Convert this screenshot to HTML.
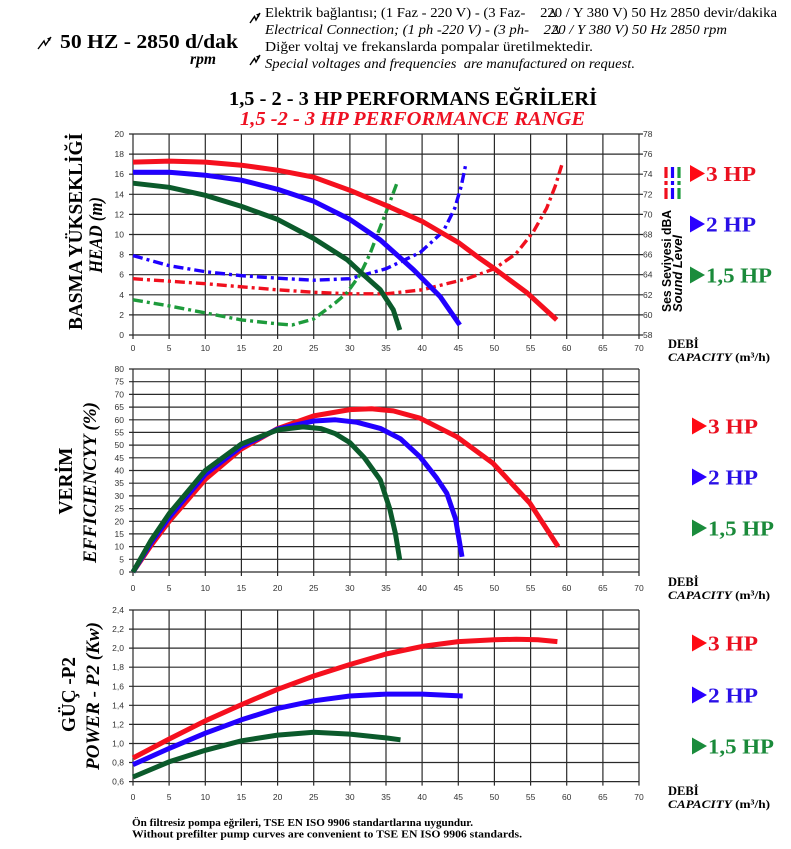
<!DOCTYPE html>
<html><head><meta charset="utf-8"><style>
html,body{margin:0;padding:0;background:#fff;}
svg{display:block;}
.tk{font-family:"Liberation Sans",Arial,sans-serif;font-size:8.5px;fill:#333;}
.sr{font-family:"Liberation Serif","Times New Roman",serif;}
</style></head><body>
<svg width="791" height="849" viewBox="0 0 791 849" xmlns="http://www.w3.org/2000/svg">
<rect width="791" height="849" fill="#fff"/>

<!-- Header -->
<g stroke="#000" stroke-width="1.4" fill="none">
  <path d="M38,49 L44,41 L45.5,45 L51,37"/>
  <path d="M250,23 L254.5,16.5 L256,20 L260,13"/>
  <path d="M250,65 L254.5,58.5 L256,62 L260,55"/>
</g>
<g fill="#000">
  <polygon points="51,37 47,38.5 50,41"/>
  <polygon points="260,13 256,14.5 259,17"/>
  <polygon points="260,55 256,56.5 259,59"/>
</g>
<text class="sr" x="60" y="48" font-size="20" font-weight="bold" textLength="178" lengthAdjust="spacingAndGlyphs">50 HZ - 2850 d/dak</text>
<text class="sr" x="190" y="64" font-size="16" font-weight="bold" font-style="italic" textLength="26" lengthAdjust="spacingAndGlyphs">rpm</text>
<text class="sr" x="265" y="17" font-size="14" textLength="512" lengthAdjust="spacingAndGlyphs" xml:space="preserve">Elektrik bağlantısı; (1 Faz - 220 V) - (3 Faz-    220 / Y 380 V) 50 Hz 2850 devir/dakika</text>
<text class="sr" x="265" y="34" font-size="14" font-style="italic" textLength="462" lengthAdjust="spacingAndGlyphs" xml:space="preserve">Electrical Connection; (1 ph -220 V) - (3 ph-    220 / Y 380 V) 50 Hz 2850 rpm</text>
<text class="sr" x="549" y="17" font-size="12">∆</text>
<text class="sr" x="552" y="34" font-size="12">∆</text>
<text class="sr" x="265" y="51" font-size="14" textLength="328" lengthAdjust="spacingAndGlyphs">Diğer voltaj ve frekanslarda pompalar üretilmektedir.</text>
<text class="sr" x="265" y="68" font-size="14" font-style="italic" textLength="370" lengthAdjust="spacingAndGlyphs" xml:space="preserve">Special voltages and frequencies  are manufactured on request.</text>

<text class="sr" x="229" y="105" font-size="20" font-weight="bold" textLength="368" lengthAdjust="spacingAndGlyphs">1,5 - 2 - 3 HP PERFORMANS EĞRİLERİ</text>
<text class="sr" x="240" y="125" font-size="20" font-weight="bold" font-style="italic" fill="#ee1122" textLength="345" lengthAdjust="spacingAndGlyphs">1,5 -2 - 3 HP PERFORMANCE RANGE</text>

<!-- ============ CHART 1 ============ -->
<g stroke="#2a2a2a" stroke-width="1.2">
  <line x1="133" y1="134" x2="133" y2="339"/><line x1="169.1" y1="134" x2="169.1" y2="339"/><line x1="205.3" y1="134" x2="205.3" y2="339"/><line x1="241.4" y1="134" x2="241.4" y2="339"/><line x1="277.6" y1="134" x2="277.6" y2="339"/><line x1="313.7" y1="134" x2="313.7" y2="339"/><line x1="349.9" y1="134" x2="349.9" y2="339"/><line x1="386" y1="134" x2="386" y2="339"/><line x1="422.1" y1="134" x2="422.1" y2="339"/><line x1="458.3" y1="134" x2="458.3" y2="339"/><line x1="494.4" y1="134" x2="494.4" y2="339"/><line x1="530.6" y1="134" x2="530.6" y2="339"/><line x1="566.7" y1="134" x2="566.7" y2="339"/><line x1="602.9" y1="134" x2="602.9" y2="339"/><line x1="639" y1="134" x2="639" y2="339"/>
  <line x1="129" y1="134" x2="643" y2="134"/><line x1="129" y1="154.1" x2="643" y2="154.1"/><line x1="129" y1="174.2" x2="643" y2="174.2"/><line x1="129" y1="194.3" x2="643" y2="194.3"/><line x1="129" y1="214.4" x2="643" y2="214.4"/><line x1="129" y1="234.5" x2="643" y2="234.5"/><line x1="129" y1="254.6" x2="643" y2="254.6"/><line x1="129" y1="274.7" x2="643" y2="274.7"/><line x1="129" y1="294.8" x2="643" y2="294.8"/><line x1="129" y1="314.9" x2="643" y2="314.9"/><line x1="129" y1="335" x2="643" y2="335"/>
</g>
<g class="tk" text-anchor="end">
  <text x="124" y="137">20</text><text x="124" y="157.1">18</text><text x="124" y="177.2">16</text><text x="124" y="197.3">14</text><text x="124" y="217.4">12</text><text x="124" y="237.5">10</text><text x="124" y="257.6">8</text><text x="124" y="277.7">6</text><text x="124" y="297.8">4</text><text x="124" y="317.9">2</text><text x="124" y="338">0</text>
</g>
<g class="tk">
  <text x="643" y="137">78</text><text x="643" y="157.1">76</text><text x="643" y="177.2">74</text><text x="643" y="197.3">72</text><text x="643" y="217.4">70</text><text x="643" y="237.5">68</text><text x="643" y="257.6">66</text><text x="643" y="277.7">64</text><text x="643" y="297.8">62</text><text x="643" y="317.9">60</text><text x="643" y="338">58</text>
</g>
<g class="tk" text-anchor="middle">
  <text x="133" y="351">0</text><text x="169.1" y="351">5</text><text x="205.3" y="351">10</text><text x="241.4" y="351">15</text><text x="277.6" y="351">20</text><text x="313.7" y="351">25</text><text x="349.9" y="351">30</text><text x="386" y="351">35</text><text x="422.1" y="351">40</text><text x="458.3" y="351">45</text><text x="494.4" y="351">50</text><text x="530.6" y="351">55</text><text x="566.7" y="351">60</text><text x="602.9" y="351">65</text><text x="639" y="351">70</text>
</g>

<!-- dash-dot sound curves -->
<g fill="none" stroke-width="3.4" stroke-dasharray="10 4 3 4" stroke-linejoin="round">
  <polyline stroke="#1f00ff" points="133,255.6 169.2,265.7 205.3,271.7 241.5,275.7 277.6,278.2 313.8,280.2 349.9,278.7 386.1,268.7 420,252.6 443.2,231.5 454.7,208.4 461.2,186.3 465.6,165.2"/>
  <polyline stroke="#f0101e" points="133,278.7 169.2,281.2 205.3,283.7 241.5,286.8 277.6,289.8 313.8,292.3 349.9,293.8 386.1,293.8 422.2,289.8 467,278.7 494.5,268.7 516.2,253.6 533.5,231.5 546.6,208.4 555.2,186.3 561.7,165.2"/>
  <polyline stroke="#1e9b3c" points="133,299.8 169.2,305.9 205.3,312.9 241.5,319.9 277.6,323.9 292.1,325 313.8,318.9 335.4,302.8 347,292.8 360,274.7 370.1,253.6 378.1,232.5 386.8,210.4 396.9,183.2"/>
</g>
<!-- head curves -->
<g fill="none" stroke-width="5" stroke-linejoin="round">
  <polyline stroke="#f5101e" points="133,162.1 169.2,161.1 205.3,162.1 241.5,165.2 277.6,170.2 313.8,177.2 349.9,190.3 386.1,205.4 422.2,221.4 458.4,242.5 480,258.6 494.5,268.7 527,292.8 556.7,319.9"/>
  <polyline stroke="#2200ff" points="133,172.2 169.2,172.2 205.3,175.2 241.5,180.2 277.6,189.3 313.8,201.3 349.9,219.4 380.3,240 413.5,269.7 440.3,296.8 459.8,325"/>
  <polyline stroke="#0b5a2b" points="133,183.2 169.2,187.3 205.3,195.3 241.5,206.4 277.6,219.4 313.8,238.5 347,259.6 360,271.7 380.3,289.8 393.3,309.9 399.8,330"/>
</g>

<!-- dash legend -->
<g stroke-width="3.2" stroke-dasharray="11 3 4 3 11">
  <line x1="666" y1="167" x2="666" y2="203" stroke="#f0101e"/>
  <line x1="672.5" y1="167" x2="672.5" y2="203" stroke="#1f00ff"/>
  <line x1="679" y1="167" x2="679" y2="203" stroke="#1e9b3c"/>
</g>
<text transform="translate(671,261) rotate(-90)" text-anchor="middle" font-family="Liberation Sans,Arial,sans-serif" font-weight="bold" font-size="12.5" textLength="102" lengthAdjust="spacingAndGlyphs">Ses Seviyesi dBA</text>
<text transform="translate(682,273.5) rotate(-90)" text-anchor="middle" font-family="Liberation Sans,Arial,sans-serif" font-weight="bold" font-style="italic" font-size="12.5" textLength="77" lengthAdjust="spacingAndGlyphs">Sound Level</text>

<!-- left axis labels chart1 -->
<text class="sr" transform="translate(82,231.5) rotate(-90)" text-anchor="middle" font-size="20" font-weight="bold" textLength="197" lengthAdjust="spacingAndGlyphs">BASMA YÜKSEKLİĞİ</text>
<text class="sr" transform="translate(102,235) rotate(-90)" text-anchor="middle" font-size="19" font-weight="bold" font-style="italic" textLength="76" lengthAdjust="spacingAndGlyphs">HEAD (m)</text>

<!-- ============ CHART 2 ============ -->
<g stroke="#2a2a2a" stroke-width="1.2">
  <line x1="133" y1="369" x2="133" y2="576"/><line x1="169.1" y1="369" x2="169.1" y2="576"/><line x1="205.3" y1="369" x2="205.3" y2="576"/><line x1="241.4" y1="369" x2="241.4" y2="576"/><line x1="277.6" y1="369" x2="277.6" y2="576"/><line x1="313.7" y1="369" x2="313.7" y2="576"/><line x1="349.9" y1="369" x2="349.9" y2="576"/><line x1="386" y1="369" x2="386" y2="576"/><line x1="422.1" y1="369" x2="422.1" y2="576"/><line x1="458.3" y1="369" x2="458.3" y2="576"/><line x1="494.4" y1="369" x2="494.4" y2="576"/><line x1="530.6" y1="369" x2="530.6" y2="576"/><line x1="566.7" y1="369" x2="566.7" y2="576"/><line x1="602.9" y1="369" x2="602.9" y2="576"/><line x1="639" y1="369" x2="639" y2="576"/>
  <line x1="129" y1="369" x2="639" y2="369"/><line x1="129" y1="381.7" x2="639" y2="381.7"/><line x1="129" y1="394.4" x2="639" y2="394.4"/><line x1="129" y1="407.1" x2="639" y2="407.1"/><line x1="129" y1="419.8" x2="639" y2="419.8"/><line x1="129" y1="432.4" x2="639" y2="432.4"/><line x1="129" y1="445.1" x2="639" y2="445.1"/><line x1="129" y1="457.8" x2="639" y2="457.8"/><line x1="129" y1="470.5" x2="639" y2="470.5"/><line x1="129" y1="483.2" x2="639" y2="483.2"/><line x1="129" y1="495.9" x2="639" y2="495.9"/><line x1="129" y1="508.6" x2="639" y2="508.6"/><line x1="129" y1="521.3" x2="639" y2="521.3"/><line x1="129" y1="533.9" x2="639" y2="533.9"/><line x1="129" y1="546.6" x2="639" y2="546.6"/><line x1="129" y1="559.3" x2="639" y2="559.3"/><line x1="129" y1="572" x2="639" y2="572"/>
</g>
<g class="tk" text-anchor="end">
  <text x="124" y="372">80</text><text x="124" y="384.7">75</text><text x="124" y="397.4">70</text><text x="124" y="410.1">65</text><text x="124" y="422.8">60</text><text x="124" y="435.4">55</text><text x="124" y="448.1">50</text><text x="124" y="460.8">45</text><text x="124" y="473.5">40</text><text x="124" y="486.2">35</text><text x="124" y="498.9">30</text><text x="124" y="511.6">25</text><text x="124" y="524.3">20</text><text x="124" y="536.9">15</text><text x="124" y="549.6">10</text><text x="124" y="562.3">5</text><text x="124" y="575">0</text>
</g>
<g class="tk" text-anchor="middle">
  <text x="133" y="591">0</text><text x="169.1" y="591">5</text><text x="205.3" y="591">10</text><text x="241.4" y="591">15</text><text x="277.6" y="591">20</text><text x="313.7" y="591">25</text><text x="349.9" y="591">30</text><text x="386" y="591">35</text><text x="422.1" y="591">40</text><text x="458.3" y="591">45</text><text x="494.4" y="591">50</text><text x="530.6" y="591">55</text><text x="566.7" y="591">60</text><text x="602.9" y="591">65</text><text x="639" y="591">70</text>
</g>
<g fill="none" stroke-width="5" stroke-linejoin="round">
  <polyline stroke="#f5101e" points="133,572 151.1,545.4 169.2,521.3 205.3,479.4 241.5,448.9 277.6,428.6 313.8,415.9 349.9,409.6 371.6,408.8 393.3,410.9 420,418.2 456.9,436.8 493.1,463.4 529.9,503.2 558.1,546.6"/>
  <polyline stroke="#2200ff" points="133,572 151.1,542.8 169.2,517.4 205.3,474.3 241.5,446.4 277.6,429.1 313.8,421 335.4,419.8 357.1,422.3 380.3,428.4 400.5,438.8 420,456.8 436.7,478.1 446.8,493.3 455.5,518.7 462,556.8"/>
  <polyline stroke="#0b5a2b" points="133,572 151.1,540.3 169.2,513.6 205.3,470.5 241.5,443.9 277.6,429.9 302.9,426.9 321,428.6 335.4,433.7 349.9,442.6 364.4,457.8 380.3,479.9 389.7,508.6 395.5,533.9 399.8,560.1"/>
</g>
<text class="sr" transform="translate(72,481) rotate(-90)" text-anchor="middle" font-size="20" font-weight="bold" textLength="67" lengthAdjust="spacingAndGlyphs">VERİM</text>
<text class="sr" transform="translate(96,482.5) rotate(-90)" text-anchor="middle" font-size="19" font-weight="bold" font-style="italic" textLength="161" lengthAdjust="spacingAndGlyphs">EFFICIENCYY (%)</text>

<!-- ============ CHART 3 ============ -->
<g stroke="#2a2a2a" stroke-width="1.2">
  <line x1="133" y1="610" x2="133" y2="785.6"/><line x1="169.1" y1="610" x2="169.1" y2="785.6"/><line x1="205.3" y1="610" x2="205.3" y2="785.6"/><line x1="241.4" y1="610" x2="241.4" y2="785.6"/><line x1="277.6" y1="610" x2="277.6" y2="785.6"/><line x1="313.7" y1="610" x2="313.7" y2="785.6"/><line x1="349.9" y1="610" x2="349.9" y2="785.6"/><line x1="386" y1="610" x2="386" y2="785.6"/><line x1="422.1" y1="610" x2="422.1" y2="785.6"/><line x1="458.3" y1="610" x2="458.3" y2="785.6"/><line x1="494.4" y1="610" x2="494.4" y2="785.6"/><line x1="530.6" y1="610" x2="530.6" y2="785.6"/><line x1="566.7" y1="610" x2="566.7" y2="785.6"/><line x1="602.9" y1="610" x2="602.9" y2="785.6"/><line x1="639" y1="610" x2="639" y2="785.6"/>
  <line x1="129" y1="610" x2="639" y2="610"/><line x1="129" y1="629.1" x2="639" y2="629.1"/><line x1="129" y1="648.1" x2="639" y2="648.1"/><line x1="129" y1="667.2" x2="639" y2="667.2"/><line x1="129" y1="686.3" x2="639" y2="686.3"/><line x1="129" y1="705.3" x2="639" y2="705.3"/><line x1="129" y1="724.4" x2="639" y2="724.4"/><line x1="129" y1="743.5" x2="639" y2="743.5"/><line x1="129" y1="762.5" x2="639" y2="762.5"/><line x1="129" y1="781.6" x2="639" y2="781.6"/>
</g>
<g class="tk" text-anchor="end">
  <text x="124" y="613">2,4</text><text x="124" y="632.1">2,2</text><text x="124" y="651.1">2,0</text><text x="124" y="670.2">1,8</text><text x="124" y="689.3">1,6</text><text x="124" y="708.3">1,4</text><text x="124" y="727.4">1,2</text><text x="124" y="746.5">1,0</text><text x="124" y="765.5">0,8</text><text x="124" y="784.6">0,6</text>
</g>
<g class="tk" text-anchor="middle">
  <text x="133" y="800">0</text><text x="169.1" y="800">5</text><text x="205.3" y="800">10</text><text x="241.4" y="800">15</text><text x="277.6" y="800">20</text><text x="313.7" y="800">25</text><text x="349.9" y="800">30</text><text x="386" y="800">35</text><text x="422.1" y="800">40</text><text x="458.3" y="800">45</text><text x="494.4" y="800">50</text><text x="530.6" y="800">55</text><text x="566.7" y="800">60</text><text x="602.9" y="800">65</text><text x="639" y="800">70</text>
</g>
<g fill="none" stroke-width="5" stroke-linejoin="round">
  <polyline stroke="#f5101e" points="133,758 169.2,739 205.3,720.8 241.5,704.6 277.6,689.3 313.8,676 349.9,664.5 386.1,654 422.2,646.4 458.4,641.6 494.5,639.7 516.2,639.3 537.9,639.7 557.4,641.6"/>
  <polyline stroke="#2200ff" points="133,764.6 169.2,748.4 205.3,733.2 241.5,719.8 277.6,708.4 313.8,700.8 349.9,696 386.1,694.1 422.2,694.1 462.7,696"/>
  <polyline stroke="#0b5a2b" points="133,777 169.2,761.8 205.3,750.3 241.5,740.8 277.6,735.1 313.8,732.2 349.9,734.1 386.1,737.9 400.5,739.8"/>
</g>
<text class="sr" transform="translate(75,694.5) rotate(-90)" text-anchor="middle" font-size="20" font-weight="bold" textLength="75" lengthAdjust="spacingAndGlyphs">GÜÇ -P2</text>
<text class="sr" transform="translate(99,696) rotate(-90)" text-anchor="middle" font-size="19" font-weight="bold" font-style="italic" textLength="148" lengthAdjust="spacingAndGlyphs">POWER - P2 (Kw)</text>

<!-- DEBİ / CAPACITY labels -->
<g class="sr" font-weight="bold">
  <text x="668" y="348" font-size="12.5">DEBİ</text>
  <text x="668" y="361" font-size="12" textLength="102" lengthAdjust="spacingAndGlyphs"><tspan font-style="italic">CAPACITY</tspan> (m³/h)</text>
  <text x="668" y="586" font-size="12.5">DEBİ</text>
  <text x="668" y="599" font-size="12" textLength="102" lengthAdjust="spacingAndGlyphs"><tspan font-style="italic">CAPACITY</tspan> (m³/h)</text>
  <text x="668" y="795" font-size="12.5">DEBİ</text>
  <text x="668" y="808" font-size="12" textLength="102" lengthAdjust="spacingAndGlyphs"><tspan font-style="italic">CAPACITY</tspan> (m³/h)</text>
</g>

<!-- HP legends -->
<g class="sr" font-weight="bold" font-size="21">
  <polygon points="690,165 690,182 705,173.5" fill="#ff0a14"/>
  <text x="706" y="181" fill="#ea1020" textLength="50" lengthAdjust="spacingAndGlyphs">3 HP</text>
  <polygon points="690,215.5 690,232.5 705,224" fill="#2a00ff"/>
  <text x="706" y="231.5" fill="#2a10e6" textLength="50" lengthAdjust="spacingAndGlyphs">2 HP</text>
  <polygon points="690,266.5 690,283.5 705,275" fill="#1a8c3c"/>
  <text x="706" y="282.5" fill="#1a8a3a" textLength="66" lengthAdjust="spacingAndGlyphs">1,5 HP</text>

  <polygon points="692,417.5 692,434.5 707,426" fill="#ff0a14"/>
  <text x="708" y="433.5" fill="#ea1020" textLength="50" lengthAdjust="spacingAndGlyphs">3 HP</text>
  <polygon points="692,468.5 692,485.5 707,477" fill="#2a00ff"/>
  <text x="708" y="484.5" fill="#2a10e6" textLength="50" lengthAdjust="spacingAndGlyphs">2 HP</text>
  <polygon points="692,519.5 692,536.5 707,528" fill="#1a8c3c"/>
  <text x="708" y="535.5" fill="#1a8a3a" textLength="66" lengthAdjust="spacingAndGlyphs">1,5 HP</text>

  <polygon points="692,634.5 692,651.5 707,643" fill="#ff0a14"/>
  <text x="708" y="650.5" fill="#ea1020" textLength="50" lengthAdjust="spacingAndGlyphs">3 HP</text>
  <polygon points="692,686.5 692,703.5 707,695" fill="#2a00ff"/>
  <text x="708" y="702.5" fill="#2a10e6" textLength="50" lengthAdjust="spacingAndGlyphs">2 HP</text>
  <polygon points="692,737.5 692,754.5 707,746" fill="#1a8c3c"/>
  <text x="708" y="753.5" fill="#1a8a3a" textLength="66" lengthAdjust="spacingAndGlyphs">1,5 HP</text>
</g>

<!-- Footer -->
<text class="sr" x="132" y="826" font-size="10.5" font-weight="bold" textLength="341" lengthAdjust="spacingAndGlyphs">Ön filtresiz pompa eğrileri, TSE EN ISO 9906 standartlarına uygundur.</text>
<text class="sr" x="132" y="837.5" font-size="10.5" font-weight="bold" textLength="390" lengthAdjust="spacingAndGlyphs">Without prefilter pump curves are convenient to TSE EN ISO 9906 standards.</text>
</svg>
</body></html>
